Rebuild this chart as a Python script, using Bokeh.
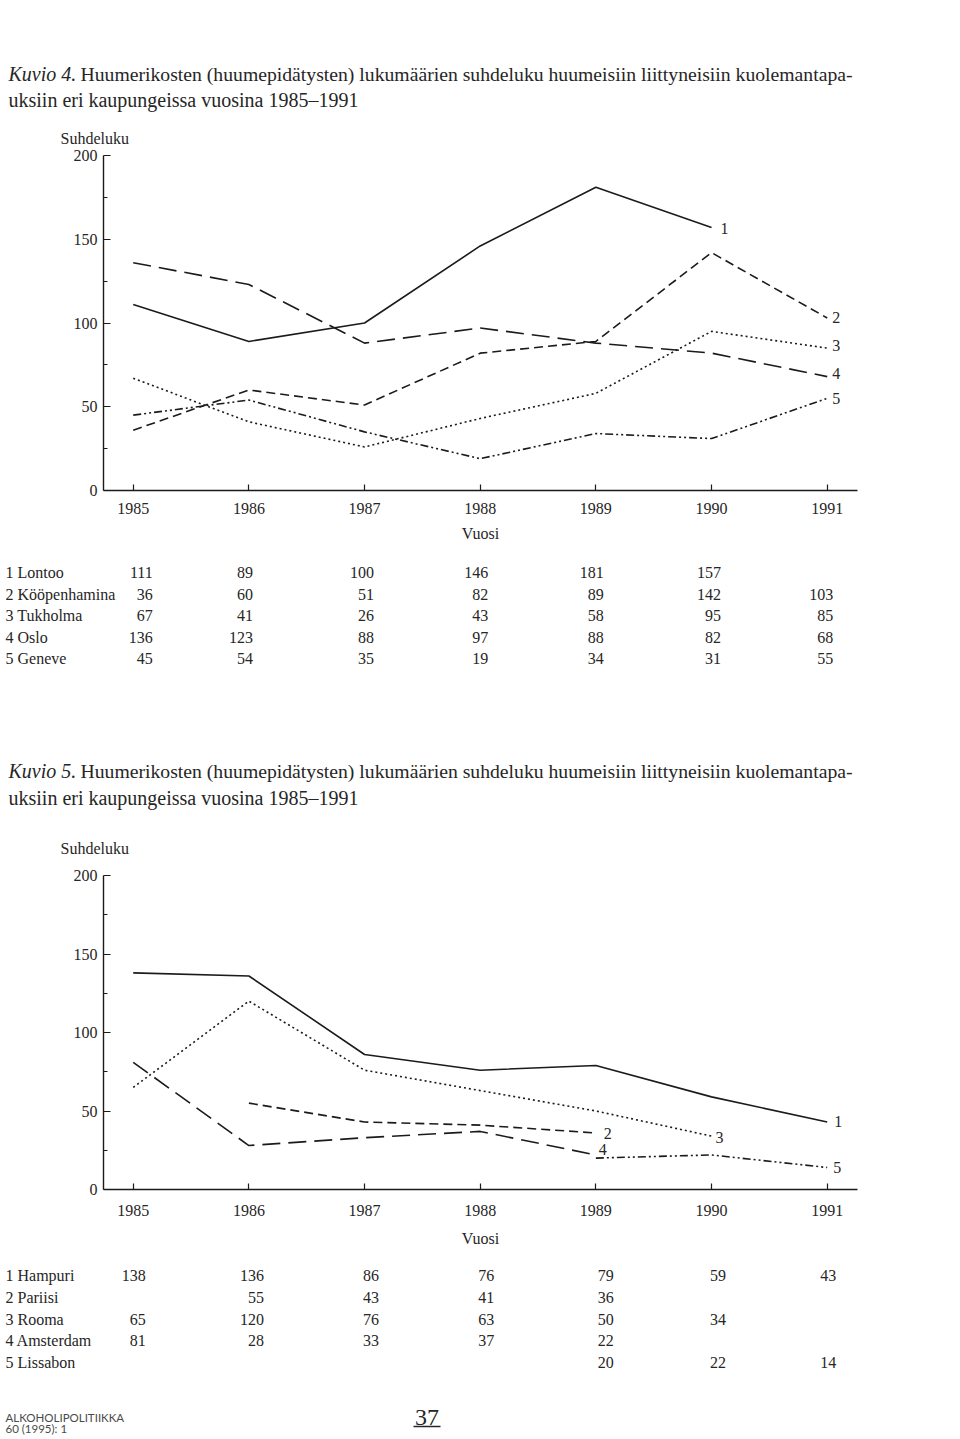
from bokeh.plotting import figure
from bokeh.models import Range1d, FixedTicker, ColumnDataSource
from bokeh.embed import file_html
from bokeh.resources import INLINE
from bokeh.core.properties import value

# ---------------- data ----------------
YEARS = [1985, 1986, 1987, 1988, 1989, 1990, 1991]
Y_TICKS = [0, 50, 100, 150, 200]
Y_MINOR = [25, 75, 125, 175]

K4_NAMES = ["1 Lontoo", "2 Kööpenhamina", "3 Tukholma", "4 Oslo", "5 Geneve"]
LONTOO = [111, 89, 100, 146, 181, 157, None]
KOOPENHAMINA = [36, 60, 51, 82, 89, 142, 103]
TUKHOLMA = [67, 41, 26, 43, 58, 95, 85]
OSLO = [136, 123, 88, 97, 88, 82, 68]
GENEVE = [45, 54, 35, 19, 34, 31, 55]

K5_NAMES = ["1 Hampuri", "2 Pariisi", "3 Rooma", "4 Amsterdam", "5 Lissabon"]
HAMPURI = [138, 136, 86, 76, 79, 59, 43]
PARIISI = [None, 55, 43, 41, 36, None, None]
ROOMA = [65, 120, 76, 63, 50, 34, None]
AMSTERDAM = [81, 28, 33, 37, 22, None, None]
LISSABON = [None, None, None, None, 20, 22, 14]

SERIES_TAGS = ["1", "2", "3", "4", "5"]
TITLE_ITALIC_4 = "Kuvio 4."
TITLE_ITALIC_5 = "Kuvio 5."
TITLE_LINE1 = ("Huumerikosten (huumepidätysten) lukumäärien suhdeluku huumeisiin "
               "liittyneisiin kuolemantapa-")
TITLE_LINE2 = "uksiin eri kaupungeissa vuosina 1985–1991"
Y_LABEL = "Suhdeluku"
X_LABEL = "Vuosi"
FOOT_1 = "ALKOHOLIPOLITIIKKA"
FOOT_2 = "60 (1995): 1"
PAGE_NO = "37"

# ---------------- layout / style ----------------
W = 960
FRAME_L, FRAME_R = 103, 103
X0, X1 = 1984.743, 1991.262
PX_PER_YEAR = (W - FRAME_L - FRAME_R) / (X1 - X0)
XF0 = X0 - FRAME_L / PX_PER_YEAR
XF1 = X1 + FRAME_R / PX_PER_YEAR
SERIF = "Liberation Serif"
SANS = "Lato"
INK = "#1b1b1b"
TEXT = "#262626"
DASHES = ["solid", "9 5", "2 3", "18 8", "8 3 2 3 2 3"]

TAG_OFF_4 = [(9, 1), (5, 0), (5, -3), (5, -3), (5, 0)]
TAG_OFF_5 = [(7, 0), (8, 1), (4, 1), (3, -5), (6, 0)]
COL_OFF_4 = [19.5, 4, 9.4, 8, 8, 9.4, 6]
COL_OFF_5 = [12.5, 15, 14.4, 14, 18, 14.4, 9]


def text_fig(height, xr, yr):
    p = figure(width=W, height=height, x_range=xr, y_range=yr,
               output_backend="svg", toolbar_location=None,
               x_axis_type=None, y_axis_type=None, title=None,
               min_border=0, min_border_left=0, min_border_right=0,
               min_border_top=0, min_border_bottom=0)
    p.outline_line_color = None
    p.grid.visible = False
    return p


def head(height, italic, c1, c2, cy):
    p = text_fig(height, Range1d(0, W), Range1d(height, 0))
    common = dict(text_font=value(SERIF), text_color=TEXT,
                  text_baseline="middle", text_align="left")
    p.text(x=[8], y=[c1], text=[italic], text_font_size="20px",
           text_font_style="italic", **common)
    p.text(x=[80], y=[c1], text=[TITLE_LINE1], text_font_size="19.7px", **common)
    p.text(x=[8], y=[c2], text=[TITLE_LINE2], text_font_size="20px", **common)
    p.text(x=[60], y=[cy], text=[Y_LABEL], text_font_size="16px", **common)
    return p


def chart(height, top, bottom, series, tag_off, tick_standoff, lab_standoff):
    p = figure(width=W, height=height, x_range=Range1d(X0, X1),
               y_range=Range1d(0, 200), output_backend="svg",
               toolbar_location=None, title=None,
               min_border_left=FRAME_L, min_border_right=FRAME_R,
               min_border_top=top, min_border_bottom=bottom)
    p.outline_line_color = None
    p.grid.visible = False
    xa = p.xaxis[0]
    xa.ticker = FixedTicker(ticks=YEARS)
    xa.major_tick_in = 6
    xa.major_tick_out = 0
    xa.major_label_standoff = tick_standoff
    xa.axis_label = X_LABEL
    xa.axis_label_standoff = lab_standoff
    ya = p.yaxis[0]
    ya.ticker = FixedTicker(ticks=Y_TICKS, minor_ticks=Y_MINOR)
    ya.major_tick_in = 7
    ya.major_tick_out = 0
    ya.minor_tick_in = 4
    ya.minor_tick_out = 0
    ya.major_label_standoff = 6
    for a in (xa, ya):
        a.axis_line_color = INK
        a.axis_line_width = 1.4
        a.major_tick_line_color = INK
        a.major_tick_line_width = 1.2
        a.major_label_text_font = SERIF
        a.major_label_text_font_size = "16px"
        a.major_label_text_color = TEXT
        a.axis_label_text_font = SERIF
        a.axis_label_text_font_size = "16px"
        a.axis_label_text_font_style = "normal"
        a.axis_label_text_color = TEXT
    xa.minor_tick_line_color = None
    ya.minor_tick_line_color = INK
    tx, ty, tt, dx, dy = [], [], [], [], []
    for vals, dash, tag, off in zip(series, DASHES, SERIES_TAGS, tag_off):
        xs = [yr for yr, v in zip(YEARS, vals) if v is not None]
        ys = [v for v in vals if v is not None]
        p.line(xs, ys, line_dash=dash, line_width=1.6, line_color=INK)
        tx.append(xs[-1]); ty.append(ys[-1]); tt.append(tag)
        dx.append(off[0]); dy.append(off[1])
    src = ColumnDataSource(dict(x=tx, y=ty, t=tt, dx=dx, dy=dy))
    p.text(x="x", y="y", text="t", x_offset="dx", y_offset="dy", source=src,
           text_font=value(SERIF), text_font_size="16px", text_color=TEXT,
           text_align="left", text_baseline="middle")
    return p


def table(height, names, rows, col_off, row0, pitch):
    p = text_fig(height, Range1d(XF0, XF1),
                 Range1d((height - row0) / pitch, -row0 / pitch))
    common = dict(text_font=value(SERIF), text_font_size="16px",
                  text_color=TEXT, text_baseline="middle")
    p.text(x=[XF0] * len(names), y=list(range(len(names))), text=names,
           x_offset=5, text_align="left", **common)
    xs, ys, ts, offs = [], [], [], []
    for i, row in enumerate(rows):
        for j, v in enumerate(row):
            if v is not None:
                xs.append(YEARS[j]); ys.append(i); ts.append(str(v))
                offs.append(col_off[j])
    src = ColumnDataSource(dict(x=xs, y=ys, t=ts, dx=offs))
    p.text(x="x", y="y", text="t", x_offset="dx", source=src,
           text_align="right", **common)
    return p


def footer(height):
    p = text_fig(height, Range1d(0, W), Range1d(height, 0))
    common = dict(text_font=value(SANS), text_font_size="11.5px",
                  text_color="#4a4a4a", text_baseline="middle", text_align="left")
    p.text(x=[5], y=[19], text=[FOOT_1], **common)
    p.text(x=[5], y=[30], text=[FOOT_2], **common)
    p.text(x=[426.5], y=[19], text=[PAGE_NO], text_font=value(SERIF),
           text_font_size="24px", text_color=TEXT, text_align="center",
           text_baseline="middle")
    p.segment(x0=[413], y0=[28], x1=[440], y1=[28], line_color=TEXT, line_width=1.3)
    return p


K4_SERIES = [LONTOO, KOOPENHAMINA, TUKHOLMA, OSLO, GENEVE]
K5_SERIES = [HAMPURI, PARIISI, ROOMA, AMSTERDAM, LISSABON]

roots = [
    head(147, TITLE_ITALIC_4, 73, 99, 138),
    chart(403, 8, 60, K4_SERIES, TAG_OFF_4, 12, 8),
    table(190, K4_NAMES, K4_SERIES, COL_OFF_4, 22, 21.5),
    head(126, TITLE_ITALIC_5, 30, 57, 108),
    chart(384, 9, 61, K5_SERIES, TAG_OFF_5, 15, 11),
    table(148, K5_NAMES, K5_SERIES, COL_OFF_5, 25, 21.75),
    footer(40),
]

open("out.html", "w").write(file_html(roots, INLINE))
